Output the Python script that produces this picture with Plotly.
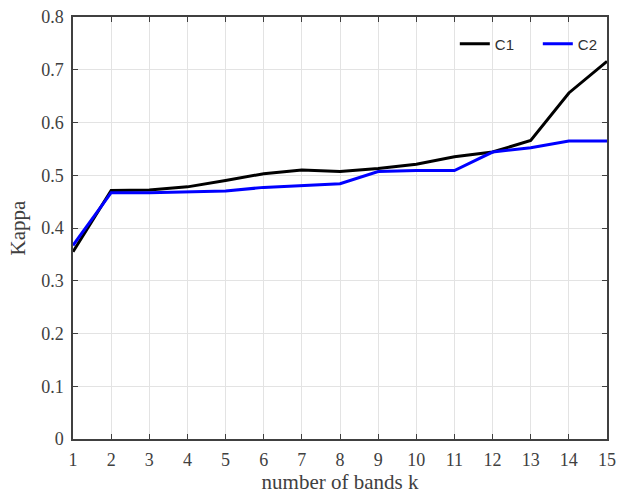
import plotly.graph_objects as go

# Number of bands k
bands = list(range(1, 16))

# Kappa coefficient per number of bands
kappa_c1 = [0.355, 0.471, 0.472, 0.478, 0.490, 0.503, 0.510, 0.507, 0.513,
            0.521, 0.535, 0.544, 0.566, 0.656, 0.716]
kappa_c2 = [0.367, 0.467, 0.467, 0.468, 0.470, 0.477, 0.481, 0.484, 0.507,
            0.509, 0.509, 0.544, 0.552, 0.565, 0.565]

y_ticks = [0, 0.1, 0.2, 0.3, 0.4, 0.5, 0.6, 0.7, 0.8]
y_tick_text = ["0", "0.1", "0.2", "0.3", "0.4", "0.5", "0.6", "0.7", "0.8"]

fig = go.Figure()
fig.add_trace(go.Scatter(x=bands, y=kappa_c1, mode="lines", name="C1",
                         line=dict(color="black", width=3)))
fig.add_trace(go.Scatter(x=bands, y=kappa_c2, mode="lines", name="C2",
                         line=dict(color="#0000ff", width=3)))

axis_common = dict(
    showline=True, linecolor="#404040", linewidth=1.5, mirror="ticks",
    ticks="inside", ticklen=5, tickcolor="#404040",
    showgrid=True, gridcolor="#e3e3e3", gridwidth=1,
    zeroline=False, automargin=False,
    tickfont=dict(family="Liberation Serif", size=18, color="#404040"),
)

fig.update_layout(
    width=618, height=500,
    margin=dict(l=73, r=11, t=17, b=61, autoexpand=False),
    plot_bgcolor="white", paper_bgcolor="white",
    xaxis=dict(range=[1, 15], tickmode="array", tickvals=bands,
               ticklabelstandoff=4,
               title=dict(text="number of bands k", standoff=4,
                          font=dict(family="Liberation Serif", size=21, color="#404040")),
               **axis_common),
    yaxis=dict(range=[0, 0.8], tickmode="array", tickvals=y_ticks, ticktext=y_tick_text,
               ticklabelstandoff=4,
               title=dict(text="Kappa", standoff=10,
                          font=dict(family="Liberation Serif", size=21, color="#404040")),
               **axis_common),
    legend=dict(orientation="h", x=0.715, xanchor="left", y=0.975, yanchor="top",
                bgcolor="rgba(255,255,255,0)", borderwidth=0,
                font=dict(family="Liberation Sans", size=15, color="#303030"),
                itemwidth=30, entrywidth=38, entrywidthmode="pixels"),
    showlegend=True,
)

fig.write_html("out.html")
